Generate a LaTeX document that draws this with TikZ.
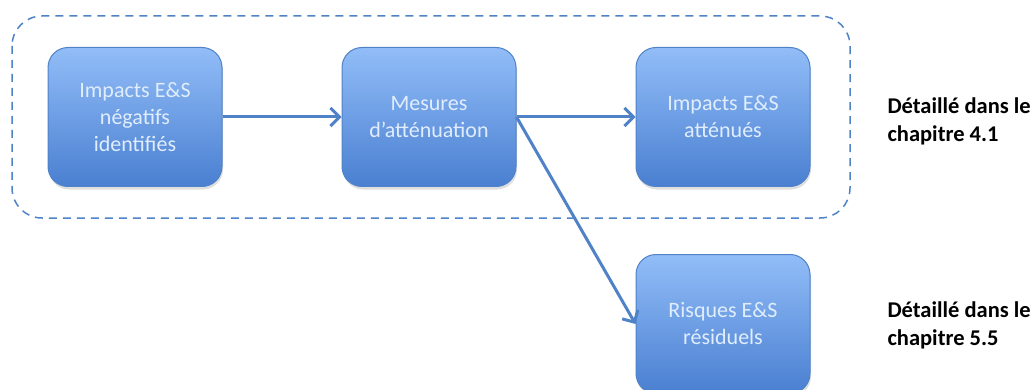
\documentclass[tikz,border=0pt]{standalone}
\usepackage{fontspec}
\setmainfont{Carlito}
\usepackage{tikz}
\usetikzlibrary{positioning, arrows.meta, shadows}
\definecolor{boxtop}{rgb}{0.57, 0.74, 0.97}
\definecolor{boxbot}{rgb}{0.29, 0.50, 0.82}
\definecolor{boxline}{rgb}{0.31, 0.51, 0.78}
\definecolor{boxtext}{rgb}{0.88, 0.93, 0.99}

\begin{document}
\begin{tikzpicture} [x = 1pt, y = 1pt, node distance = 294pt, on grid,
    etape/.style = {rectangle, rounded corners = 20pt, draw = boxline, line width = 1pt,
        top color = boxtop, bottom color = boxbot, minimum width = 174pt, minimum height = 139pt,
        align = center, text = boxtext, font = \fontsize{22}{27}\selectfont,
        drop shadow = {shadow xshift = 1pt, shadow yshift = -3pt, opacity = 0.25}},
    renvoi/.style = {anchor = west, align = left, font = \fontsize{22.5}{28}\selectfont\bfseries},
    fleche/.style = {draw = boxline, line width = 3pt, -{Straight Barb[length = 9pt, width = 18pt, line width = 3pt]}}]
\useasboundingbox (0, 0) rectangle (1035, -390);
\node (v1) [etape] at (135, -117) {Impacts E\&S\\négatifs\\identifiés};
\node (v2) [etape, right = of v1] {Mesures\\d’atténuation};
\node (v3) [etape, right = of v2] {Impacts E\&S\\atténués};
\node (v4) [etape, below = 207pt of v3] {Risques E\&S\\résiduels};
\node (r1) [renvoi] at (884, -121) {Détaillé dans le\\chapitre 4.1};
\node (r2) [renvoi] at (884, -325) {Détaillé dans le\\chapitre 5.5};
\draw [boxline, line width = 1.5pt, dash pattern = on 8pt off 6pt, rounded corners = 30pt]
    (12, -16) rectangle (850, -218);
\draw [fleche] (v1) -- (v2);
\draw [fleche] (v2.east) -- (v3.west);
\draw [fleche] (v2.east) -- (v4.west);
\end{tikzpicture}
\end{document}
